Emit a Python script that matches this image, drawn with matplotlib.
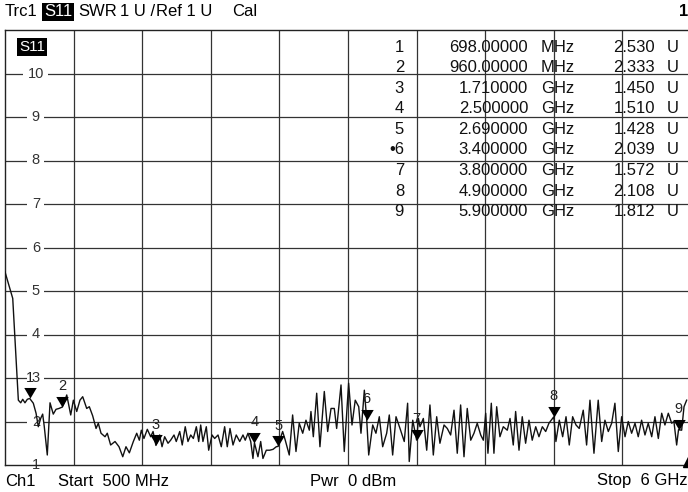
import numpy as np
import matplotlib
matplotlib.use("Agg")
import matplotlib.pyplot as plt

plt.rcParams['font.family'] = ['Liberation Sans', 'DejaVu Sans']

# sweep range and display scale
start_mhz, stop_mhz = 500, 6000
ref_swr, swr_per_div, n_div = 1, 1, 10

# trace (MHz, SWR)
trace_mhz = [500, 562, 607, 626, 642, 660, 679, 698, 727, 749, 767, 786, 802, 815, 839, 861, 887, 909, 933, 960,
             973, 995, 1027, 1048, 1075, 1101, 1123, 1155, 1176, 1203, 1230, 1248, 1270, 1302, 1320, 1347, 1382,
             1414, 1444, 1470, 1497, 1529, 1556, 1577, 1593, 1614, 1641, 1668, 1687, 1710, 1740, 1759, 1780, 1807,
             1828, 1855, 1873, 1901, 1921, 1945, 1967, 1989, 2010, 2034, 2053, 2069, 2087, 2114, 2133, 2160, 2181,
             2208, 2234, 2261, 2282, 2304, 2328, 2354, 2382, 2408, 2426, 2448, 2470, 2488, 2500, 2528, 2550, 2568,
             2595, 2622, 2649, 2675, 2690, 2699, 2726, 2747, 2779, 2806, 2833, 2859, 2887, 2913, 2940, 2953, 2972,
             2999, 3025, 3060, 3087, 3114, 3140, 3159, 3194, 3220, 3255, 3282, 3308, 3336, 3354, 3381, 3400, 3416,
             3448, 3474, 3501, 3528, 3560, 3581, 3608, 3635, 3667, 3701, 3728, 3741, 3769, 3800, 3815, 3827, 3854,
             3881, 3907, 3934, 3961, 3987, 4020, 4046, 4073, 4100, 4126, 4153, 4180, 4206, 4234, 4260, 4286, 4314,
             4335, 4354, 4372, 4399, 4420, 4442, 4468, 4495, 4527, 4549, 4575, 4594, 4621, 4647, 4674, 4701, 4727,
             4755, 4781, 4808, 4835, 4861, 4900, 4917, 4944, 4971, 4998, 5024, 5051, 5078, 5104, 5136, 5163, 5190,
             5222, 5256, 5284, 5310, 5337, 5364, 5390, 5417, 5444, 5471, 5497, 5524, 5551, 5577, 5604, 5631, 5657,
             5685, 5711, 5738, 5765, 5791, 5818, 5845, 5863, 5885, 5900, 5925, 5944, 5965]
trace_swr = [5.44, 4.83, 2.49, 2.43, 2.51, 2.43, 2.51, 2.53, 2.42, 2.19, 1.88, 2.07, 2.17, 1.88, 1.23, 2.43, 2.17, 2.28, 2.30, 2.333,
             2.42, 2.61, 2.15, 2.49, 2.23, 2.49, 2.57, 2.30, 2.34, 2.13, 1.84, 1.96, 1.73, 1.65, 1.73, 1.46, 1.54,
             1.42, 1.19, 1.42, 1.28, 1.54, 1.73, 1.57, 1.80, 1.61, 1.82, 1.65, 1.77, 1.45, 1.69, 1.42, 1.65, 1.50,
             1.57, 1.69, 1.54, 1.77, 1.46, 1.88, 1.54, 1.69, 1.61, 1.88, 1.54, 1.92, 1.54, 1.88, 1.34, 1.69, 1.61,
             1.69, 1.42, 1.88, 1.42, 1.84, 1.46, 1.69, 1.54, 1.69, 1.57, 1.73, 1.54, 1.15, 1.51, 1.19, 1.54, 1.15,
             1.34, 1.34, 1.36, 1.42, 1.428, 1.54, 1.77, 1.57, 1.23, 2.15, 1.31, 1.96, 1.73, 2.03, 1.80, 2.23, 1.65,
             2.65, 1.42, 2.69, 1.77, 2.30, 2.30, 1.84, 2.84, 1.31, 2.88, 1.92, 2.49, 2.34, 1.73, 2.72, 2.039, 1.23,
             1.92, 1.73, 2.11, 1.42, 1.73, 2.15, 1.23, 2.11, 1.84, 1.54, 2.42, 1.08, 2.03, 1.572, 2.07, 1.88, 2.07,
             1.34, 2.38, 1.23, 2.11, 1.50, 1.92, 1.84, 1.69, 2.26, 1.27, 2.38, 1.19, 2.30, 1.57, 1.73, 1.96, 1.69,
             1.57, 2.19, 1.27, 2.42, 1.27, 2.34, 1.65, 1.88, 1.80, 2.07, 1.46, 2.23, 1.34, 2.11, 1.50, 2.03, 1.57,
             1.88, 1.65, 1.88, 1.77, 1.96, 2.108, 1.54, 2.03, 1.65, 2.11, 1.46, 2.11, 1.92, 1.84, 2.26, 1.46, 2.49,
             1.27, 2.49, 1.54, 2.03, 1.77, 1.96, 2.42, 1.31, 2.11, 1.65, 2.00, 1.73, 1.96, 1.65, 2.03, 1.69, 1.96,
             1.65, 2.11, 1.61, 2.19, 1.92, 2.19, 1.96, 2.00, 1.46, 1.812, 1.80, 2.34, 2.49]

# markers
marker_ids = ['1', '2', '3', '4', '5', '6', '7', '8', '9']
marker_mhz = [698, 960, 1710, 2500, 2690, 3400, 3800, 4900, 5900]
marker_swr = [2.530, 2.333, 1.450, 1.510, 1.428, 2.039, 1.572, 2.108, 1.812]
active_marker = '6'

W, H = 688, 492
fig = plt.figure(figsize=(W / 100, H / 100), dpi=100)
ax = fig.add_axes([5 / W, 27 / H, 686 / W, 435 / H])

def px(x, y):
    return x / W, 1 - y / H

ymin = ref_swr
ymax = ref_swr + n_div * swr_per_div
ax.set_xlim(start_mhz, stop_mhz)
ax.set_ylim(ymin, ymax)
ax.set_xticks([])
ax.set_yticks([])
for s in ax.spines.values():
    s.set_color('#222222')
    s.set_linewidth(1.0)

gcol = '#333333'
for k in range(1, n_div):
    ax.axvline(start_mhz + k * (stop_mhz - start_mhz) / n_div, color=gcol, lw=0.9, zorder=1)
for k in range(1, n_div):
    ax.axhline(ymin + k * swr_per_div, color=gcol, lw=0.9, zorder=1)

# y labels on the left, inside the grid
ytr = ax.get_yaxis_transform()
for k in range(0, n_div):
    val = ymin + k * swr_per_div
    ax.text(0.045, val, f"{val:g}", transform=ytr, ha='center', va='center', fontsize=10.5,
            color='#333333', zorder=1.5,
            bbox=dict(facecolor='white', edgecolor='none', pad=3.2), clip_on=False)

# trace
ax.plot(trace_mhz, trace_swr, color='#111111', lw=1.0, zorder=3)

# marker triangles (tip on trace)
tri = [(-0.65, 1.1), (0.65, 1.1), (0.0, 0.0)]
ax.scatter(marker_mhz, marker_swr, marker=tri, s=230, color='black', zorder=4, linewidths=0)
for mid, f, v in zip(marker_ids, marker_mhz, marker_swr):
    ax.annotate(mid, (f, v), xytext=(0, 15), textcoords='offset points', ha='center', va='center',
                fontsize=10.5, color='#222222', zorder=5)

# S11 tag inside diagram
fig.text(*px(19, 47), "S11", ha='left', va='center', fontsize=11, color='white',
         bbox=dict(facecolor='black', edgecolor='none', pad=1.5))

# marker table
row_y0, row_dy = 47, 20.6
for i, (mid, f, v) in enumerate(zip(marker_ids, marker_mhz, marker_swr)):
    y = row_y0 + i * row_dy
    if f < 1000:
        ftxt, unit = f"{f:.5f}", "MHz"
    else:
        ftxt, unit = f"{f / 1000:.6f}", "GHz"
    label = ("\u2022" + mid) if mid == active_marker else mid
    fig.text(*px(404, y), label, ha='right', va='center', fontsize=12, color='#111111')
    fig.text(*px(528, y), ftxt, ha='right', va='center', fontsize=12, color='#111111')
    fig.text(*px(541, y), unit, ha='left', va='center', fontsize=12, color='#111111')
    fig.text(*px(655, y), f"{v:.3f}", ha='right', va='center', fontsize=12, color='#111111')
    fig.text(*px(667, y), "U", ha='left', va='center', fontsize=12, color='#111111')

# header line
hy = 12
fig.text(*px(5, hy), "Trc1", ha='left', va='center', fontsize=12)
fig.text(*px(44, hy), "S11", ha='left', va='center', fontsize=12, color='white',
         bbox=dict(facecolor='black', edgecolor='none', pad=1.2))
fig.text(*px(78, hy), "SWR", ha='left', va='center', fontsize=12)
fig.text(*px(120, hy), "1 U /", ha='left', va='center', fontsize=12)
fig.text(*px(156, hy), "Ref 1 U", ha='left', va='center', fontsize=12)
fig.text(*px(232, hy), "Cal", ha='left', va='center', fontsize=12)
fig.text(*px(688, hy), "1", ha='right', va='center', fontsize=12, fontweight='bold')

# footer line
fy = 481
fig.text(*px(5, fy), "Ch1", ha='left', va='center', fontsize=12)
fig.text(*px(58, fy), f"Start  {start_mhz} MHz", ha='left', va='center', fontsize=12)
fig.text(*px(310, fy), "Pwr  0 dBm", ha='left', va='center', fontsize=12)
fig.text(*px(688, fy), f"Stop  {stop_mhz // 1000} GHz", ha='right', va='center', fontsize=12)

# out-of-range indicator at lower right
ax.plot([0.998], [0.012], transform=ax.transAxes, marker='^', ms=10, color='black', clip_on=False, zorder=5)

fig.savefig("out.png", dpi=100)
